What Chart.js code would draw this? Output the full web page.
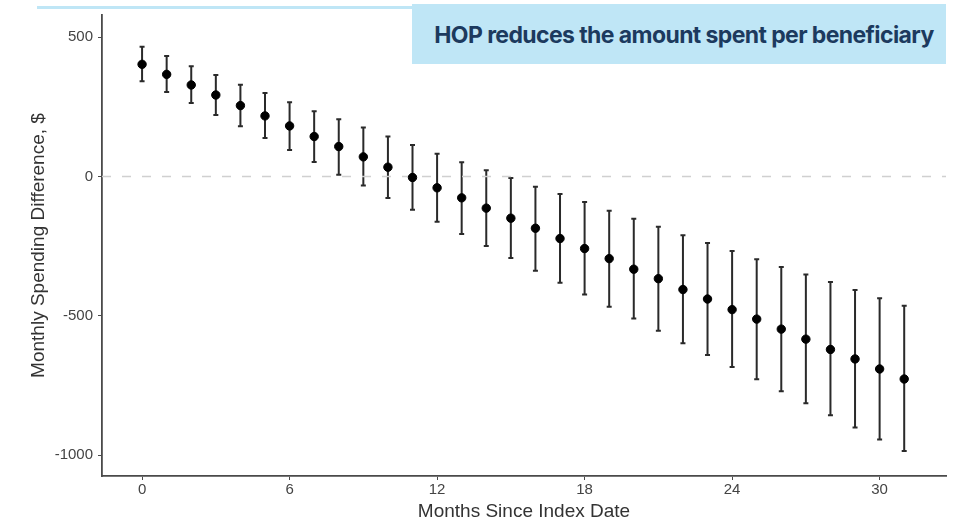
<!DOCTYPE html>
<html>
<head>
<meta charset="utf-8">
<script src="https://cdn.jsdelivr.net/npm/chart.js@4"></script>
<style>
  html, body { margin: 0; padding: 0; background: #fff; }
  #wrap { position: relative; width: 965px; height: 523px; }
  #topline { position: absolute; left: 37px; top: 6px; width: 376px; height: 3px; background: #bfe6f6; }
  #banner {
    position: absolute; left: 412px; top: 4px; width: 534px; height: 60px;
    box-sizing: border-box; padding-left: 10px;
    background: #bfe6f6; color: #1c3a5e;
    font-family: Inter, "Open Sans", sans-serif; font-weight: 700; font-size: 23px;
    line-height: 62px; text-align: center; letter-spacing: -0.6px;
  }
  canvas { position: absolute; left: 0; top: 0; }
</style>
</head>
<body>
<div id="wrap">
  <canvas id="graficoErro" width="965" height="523"></canvas>
  <div id="topline"></div>
  <div id="banner">HOP reduces the amount spent per beneficiary</div>
</div>
<script>
// Dados

const meses = [0, 1, 2, 3, 4, 5, 6, 7, 8, 9, 10, 11, 12, 13, 14, 15, 16, 17, 18, 19, 20, 21, 22, 23, 24, 25, 26, 27, 28, 29, 30, 31];
const diferenca = [402, 366, 328, 292, 254, 217, 181, 143, 107, 70, 33, -4, -41, -77, -114, -150, -186, -223, -259, -295, -333, -367, -406, -440, -478, -512, -548, -584, -621, -655, -691, -727];
const limiteSuperior = [465, 432, 395, 364, 329, 299, 266, 234, 205, 175, 143, 113, 81, 51, 22, -6, -37, -63, -92, -123, -152, -181, -211, -239, -268, -297, -325, -352, -379, -408, -437, -464];
const limiteInferior = [341, 303, 263, 220, 180, 138, 95, 52, 6, -33, -78, -120, -163, -207, -250, -293, -339, -382, -424, -468, -510, -554, -599, -641, -684, -728, -771, -814, -857, -901, -944, -985];
const ticksX = [0, 6, 12, 18, 24, 30];
const ticksY = [500, 0, -500, -1000];

// Barras de erro desenhadas pelas escalas

const barrasErro = {
    id: "barrasErro",
    beforeDatasetsDraw(chart) {
        const ctx = chart.ctx;
        const x = chart.scales.x;
        const y = chart.scales.y;
        ctx.save();
        ctx.strokeStyle = "#2a2a2a";
        ctx.lineWidth = 2;
        meses.forEach((m, i) => {
            const px = x.getPixelForValue(m);
            const top = y.getPixelForValue(limiteSuperior[i]);
            const bot = y.getPixelForValue(limiteInferior[i]);
            ctx.beginPath();
            ctx.moveTo(px, top);
            ctx.lineTo(px, bot);
            ctx.moveTo(px - 2.5, top);
            ctx.lineTo(px + 2.5, top);
            ctx.moveTo(px - 2.5, bot);
            ctx.lineTo(px + 2.5, bot);
            ctx.stroke();
        });
        ctx.restore();
    },
};

const dataErro = {
    datasets: [
        {
            label: "Zero",
            data: [{ x: -1.63, y: 0 }, { x: 32.7, y: 0 }],
            borderColor: "#d0d0d0",
            borderWidth: 1.5,
            borderDash: [9, 11],
            pointRadius: 0,
            showLine: true,
            order: 2,
        },
        {
            label: "Diferença",
            data: meses.map((m, i) => ({ x: m, y: diferenca[i] })),
            backgroundColor: "#000",
            borderColor: "#000",
            pointRadius: 4.2,
            showLine: false,
            order: 1,
        },
    ],
};

const configErro = {
    type: "scatter",
    data: dataErro,
    plugins: [barrasErro],
    options: {
        responsive: false,
        animation: false,
        layout: { padding: { top: 15, right: 19, left: 0, bottom: 0 } },
        plugins: { legend: { display: false }, tooltip: { enabled: false } },
        scales: {
            x: {
                type: "linear",
                min: -1.63,
                max: 32.7,
                afterBuildTicks: (s) => { s.ticks = ticksX.map((v) => ({ value: v })); },
                afterFit: (s) => { s.height = 47; },
                grid: { drawOnChartArea: false, tickLength: 4, color: "#4a4a4a" },
                border: { color: "#4a4a4a", width: 1.8 },
                ticks: { color: "#444", font: { family: "Liberation Sans", size: 15 }, padding: 1 },
                title: {
                    display: true,
                    text: "Months Since Index Date",
                    color: "#333",
                    font: { family: "Liberation Sans", size: 19 },
                    padding: { top: 0, bottom: 0 },
                },
            },
            y: {
                min: -1075,
                max: 579,
                afterBuildTicks: (s) => { s.ticks = ticksY.map((v) => ({ value: v })); },
                afterFit: (s) => { s.width = 102; },
                grid: { drawOnChartArea: false, tickLength: 4, color: "#4a4a4a" },
                border: { color: "#4a4a4a", width: 1.8 },
                ticks: {
                    color: "#444",
                    font: { family: "Liberation Sans", size: 15 },
                    padding: 5,
                    callback: (v) => String(v),
                },
                title: {
                    display: true,
                    text: "Monthly Spending Difference, $",
                    color: "#333",
                    font: { family: "Liberation Sans", size: 19 },
                    padding: { top: 27, bottom: 0 },
                },
            },
        },
    },
};

var graficoErro = new Chart(document.getElementById("graficoErro"), configErro);
</script>
</body>
</html>
